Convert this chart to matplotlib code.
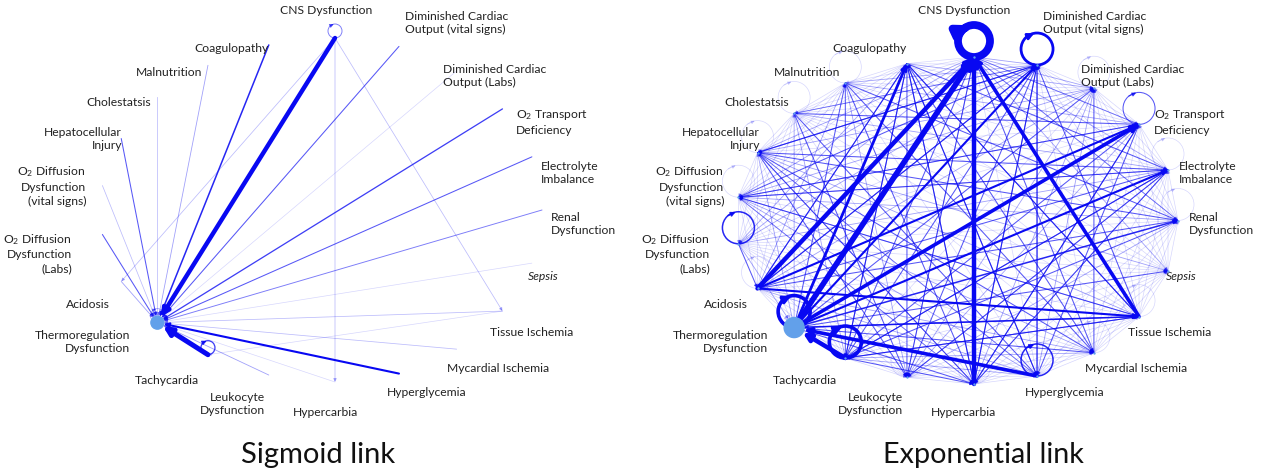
import numpy as np
import matplotlib.pyplot as plt
from matplotlib.patches import FancyArrowPatch, Circle

plt.rcParams['font.family'] = ['Lato', 'DejaVu Sans']
plt.rcParams['mathtext.fontset'] = 'custom'
plt.rcParams['mathtext.rm'] = 'Lato'
plt.rcParams['mathtext.it'] = 'Lato:italic'

# node names, clockwise from the top of the ring
node_labels = [
    'CNS Dysfunction',
    'Diminished Cardiac\nOutput (vital signs)',
    'Diminished Cardiac\nOutput (Labs)',
    'O$_2$ Transport\nDeficiency',
    'Electrolyte\nImbalance',
    'Renal\nDysfunction',
    'Sepsis',
    'Tissue Ischemia',
    'Mycardial Ischemia',
    'Hyperglycemia',
    'Hypercarbia',
    'Leukocyte\nDysfunction',
    'Tachycardia',
    'Thermoregulation\nDysfunction',
    'Acidosis',
    'O$_2$ Diffusion\nDysfunction\n(Labs)',
    'O$_2$ Diffusion\nDysfunction\n(vital signs)',
    'Hepatocellular\nInjury',
    'Cholestatsis',
    'Malnutrition',
    'Coagulopathy',
]
outcome = 13  # Thermoregulation Dysfunction

# sigmoid link: edge list (source, target, strength)
sig_src = [0, 12, 9, 20, 3, 1, 4, 17, 15, 5, 11, 19, 14, 2, 7, 8, 16, 18, 10, 6, 0, 0, 0, 7]
sig_dst = [13, 13, 13, 13, 13, 13, 13, 13, 13, 13, 13, 13, 13, 13, 13, 13, 13, 13, 13, 13, 10, 7, 14, 12]
sig_w = [8, 8.5, 5, 4, 3.5, 3, 3, 3, 3, 2.5, 2, 2, 2, 1, 1.5, 1.5, 1.5, 1.5, 1, 1, 1.5, 1.5, 1.5, 1]
sig_loop_nodes = [0, 12, 13]
sig_loop_w = [2.5, 3.5, 2]

# exponential link: row = source, column = target, hex strength (diagonal = self loop)
exp_levels = [
    'b22202200003000020000',
    '060000000333003203200',
    '011000000020002002000',
    '211300000332000020000',
    '211110000033300020000',
    '211111000000000020000',
    '011111000000000000000',
    '731111110000330032003',
    '313111111000002020000',
    '132011111400070022003',
    '830321111110000022003',
    '202022111111000000000',
    '331333132231780000003',
    '953754343031070002236',
    '830533150211111000023',
    '201121111111123400000',
    '032330120021111110000',
    '230133203233101111000',
    '121321111313201111100',
    '121213113132300111110',
    '112131133333303211110',
]

# label anchors (left panel, pixels); right panel is shifted
label_x = [326, 405, 443, 516, 541, 551, 528, 490, 447, 387, 326, 265, 199, 130, 110, 72, 86, 122, 151, 202, 269]
label_y = [10, 23, 76, 122, 173, 224, 277, 332, 369, 393, 412, 404, 381, 342, 305, 253, 186, 139, 103, 72, 49]
label_ha = ['center'] + ['left'] * 9 + ['center'] + ['right'] * 10
panel_shift = 638

EDGE_COLOR = '#0808f2'
NODE_COLOR = '#62a0ea'
LEVELS = [0, 1, 2, 3, 4, 5, 6, 7, 8, 9, 10, 11]
LW_TABLE = [0, 0.5, 0.6, 0.75, 1.1, 1.5, 2.0, 2.6, 3.2, 4.0, 4.8, 5.6]
ALPHA_TABLE = [0, 0.16, 0.38, 0.68, 0.88, 1, 1, 1, 1, 1, 1, 1]


def style(level):
    return np.interp(level, LEVELS, LW_TABLE), np.interp(level, LEVELS, ALPHA_TABLE)


def ring(cx, cy, rx_right, rx_left, ry):
    ang = np.concatenate([np.linspace(90, -90, 11), np.linspace(270, 90, 12)[1:-1]])
    ang = np.deg2rad(ang)
    rx = np.where(np.cos(ang) >= -1e-9, rx_right, rx_left)
    return np.column_stack([cx + rx * np.cos(ang), cy - ry * np.sin(ang)])


def draw_edge(ax, p, q, level, shrink_b):
    lw, a = style(level)
    ax.add_patch(FancyArrowPatch(p, q, arrowstyle='-|>', mutation_scale=3.5 + 2.4 * lw,
                                 lw=lw, color=EDGE_COLOR, alpha=a, shrinkA=0,
                                 shrinkB=shrink_b, zorder=2 + level / 20))


def draw_loop(ax, p, level, r):
    lw, a = style(level)
    c = (p[0], p[1] - r)
    ax.add_patch(Circle(c, r, fill=False, lw=lw, ec=EDGE_COLOR, alpha=a, zorder=3))
    t0, t1 = np.deg2rad(130), np.deg2rad(100)
    p0 = (c[0] + r * np.cos(t0), c[1] - r * np.sin(t0))
    p1 = (c[0] + r * np.cos(t1), c[1] - r * np.sin(t1))
    ax.add_patch(FancyArrowPatch(p0, p1, arrowstyle='-|>', mutation_scale=4 + 2.4 * lw,
                                 lw=lw, color=EDGE_COLOR, alpha=a, shrinkA=0, shrinkB=0,
                                 zorder=3))


def draw_nodes(ax, pos, hub_r, dot_size):
    if dot_size > 0:
        ax.scatter(pos[:, 0], pos[:, 1], s=dot_size, color=NODE_COLOR, zorder=4, linewidths=0)
    ax.add_patch(Circle(pos[outcome], hub_r, color=NODE_COLOR, zorder=5))


def draw_labels(ax, dx):
    for i, txt in enumerate(node_labels):
        ax.text(label_x[i] + dx, label_y[i], txt, ha=label_ha[i], va='center',
                fontsize=8.7, color='#222222', linespacing=1.32,
                style='italic' if txt == 'Sepsis' else 'normal')


fig = plt.figure(figsize=(12.61, 4.75), dpi=100)
ax = fig.add_axes([0, 0, 1, 1])
ax.set_xlim(0, 1261)
ax.set_ylim(475, 0)
ax.axis('off')

# sigmoid panel
pos_s = ring(335, 210, 207, 235, 172)
hub_s = 6.5
order = np.argsort(sig_w)
for k in order:
    s, t = sig_src[k], sig_dst[k]
    draw_edge(ax, pos_s[s], pos_s[t], sig_w[k], hub_s * 0.72 if t == outcome else 0)
for n, w in zip(sig_loop_nodes, sig_loop_w):
    draw_loop(ax, pos_s[n], w, 7)
draw_nodes(ax, pos_s, hub_s, 0)
draw_labels(ax, 0)

# exponential panel
pos_e = ring(974, 220.5, 204, 238, 163.5)
hub_e = 10
M = np.array([[int(c, 16) for c in row] for row in exp_levels])
pairs = [(M[i, j], i, j) for i in range(21) for j in range(21) if i != j and M[i, j] > 0]
for lev, i, j in sorted(pairs):
    draw_edge(ax, pos_e[i], pos_e[j], lev, hub_e * 0.72 if j == outcome else 0)
for i in range(21):
    if M[i, i] > 0:
        draw_loop(ax, pos_e[i], M[i, i], 16)
draw_nodes(ax, pos_e, hub_e, 3)
draw_labels(ax, panel_shift)

ax.text(318, 455, 'Sigmoid link', ha='center', va='center', fontsize=21, color='#111111')
ax.text(983, 455, 'Exponential link', ha='center', va='center', fontsize=20.7, color='#111111')

fig.savefig('out.png', dpi=100)
